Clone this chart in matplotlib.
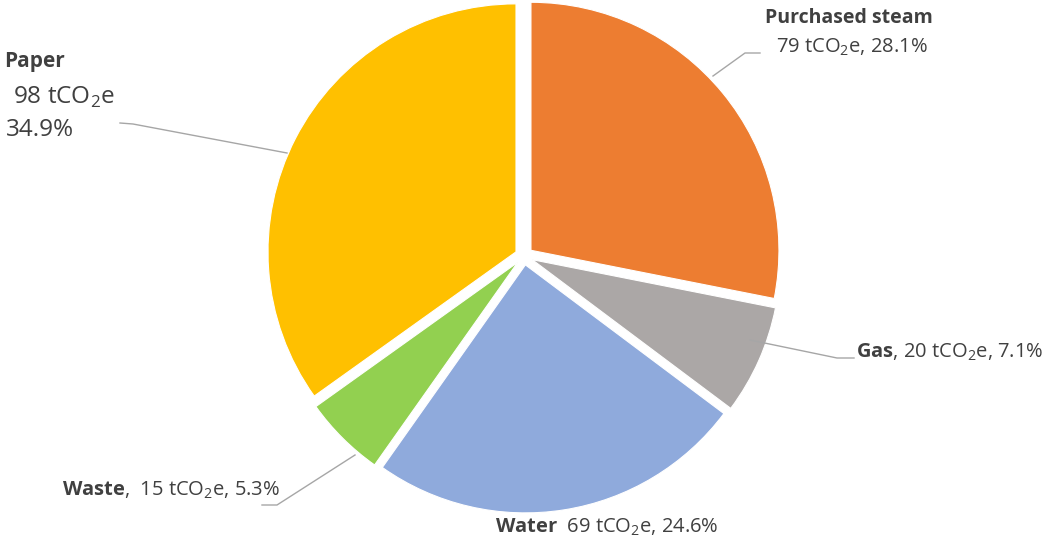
import matplotlib.pyplot as plt

plt.rcParams['font.family'] = ['Open Sans', 'DejaVu Sans']
plt.rcParams['mathtext.fontset'] = 'custom'
plt.rcParams['mathtext.rm'] = 'Open Sans'
plt.rcParams['mathtext.bf'] = 'Open Sans:bold'

# data
sources = ['Purchased steam', 'Gas', 'Water', 'Waste', 'Paper']
emissions = [79, 20, 69, 15, 98]   # tCO2e
colors = ['#ED7D31', '#ABA7A6', '#8FAADC', '#92D050', '#FFC000']

total = sum(emissions)
pcts = [100.0 * v / total for v in emissions]

W, H = 1045, 540
fig = plt.figure(figsize=(W / 100, H / 100), dpi=100)
ax = fig.add_axes([0, 0, 1, 1])

# explode is in data units here (pixels)
ax.pie(emissions, colors=colors, startangle=90, counterclock=False,
       radius=248, center=(524, H - 256), explode=[9] * 5,
       wedgeprops=dict(edgecolor='white', linewidth=0.8))

ax.set_xlim(0, W)
ax.set_ylim(0, H)
ax.set_aspect('equal')
ax.axis('off')

txt = '#404040'
line_c = '#A6A6A6'
unit = 'tCO$_2$e'
fs = 14.5

# Paper (left, stacked)
ax.text(4, H - 62, sources[4], fontsize=15, fontweight='bold', color=txt, va='center')
ax.text(13, H - 97, '%d %s' % (emissions[4], unit), fontsize=17.5, color=txt, va='center')
ax.text(6, H - 130, '%.1f%%' % pcts[4], fontsize=17.5, color=txt, va='center')
ax.plot([120, 133, 287], [H - 123, H - 124, H - 153], color=line_c, lw=1)

# Purchased steam
ax.text(765, H - 18, sources[0], fontsize=14, fontweight='bold', color=txt, va='center')
ax.text(776, H - 47, '%d %s, %.1f%%' % (emissions[0], unit, pcts[0]),
        fontsize=fs, color=txt, va='center')
ax.plot([760, 745, 713], [H - 53, H - 53, H - 76], color=line_c, lw=1)

# Gas
ax.text(856, H - 352, r'$\mathbf{Gas}$, %d %s, %.1f%%' % (emissions[1], unit, pcts[1]),
        fontsize=fs, color=txt, va='center')
ax.plot([854, 837, 750], [H - 358, H - 358, H - 340], color=line_c, lw=1)

# Waste
ax.text(62, H - 490, r'$\mathbf{Waste}$,  %d %s, %.1f%%' % (emissions[3], unit, pcts[3]),
        fontsize=fs, color=txt, va='center')
ax.plot([262, 277, 355], [H - 505, H - 505, H - 455], color=line_c, lw=1)

# Water
ax.text(495, H - 527, r'$\mathbf{Water}$  %d %s, %.1f%%' % (emissions[2], unit, pcts[2]),
        fontsize=fs, color=txt, va='center')

fig.savefig('out.png', dpi=100)
